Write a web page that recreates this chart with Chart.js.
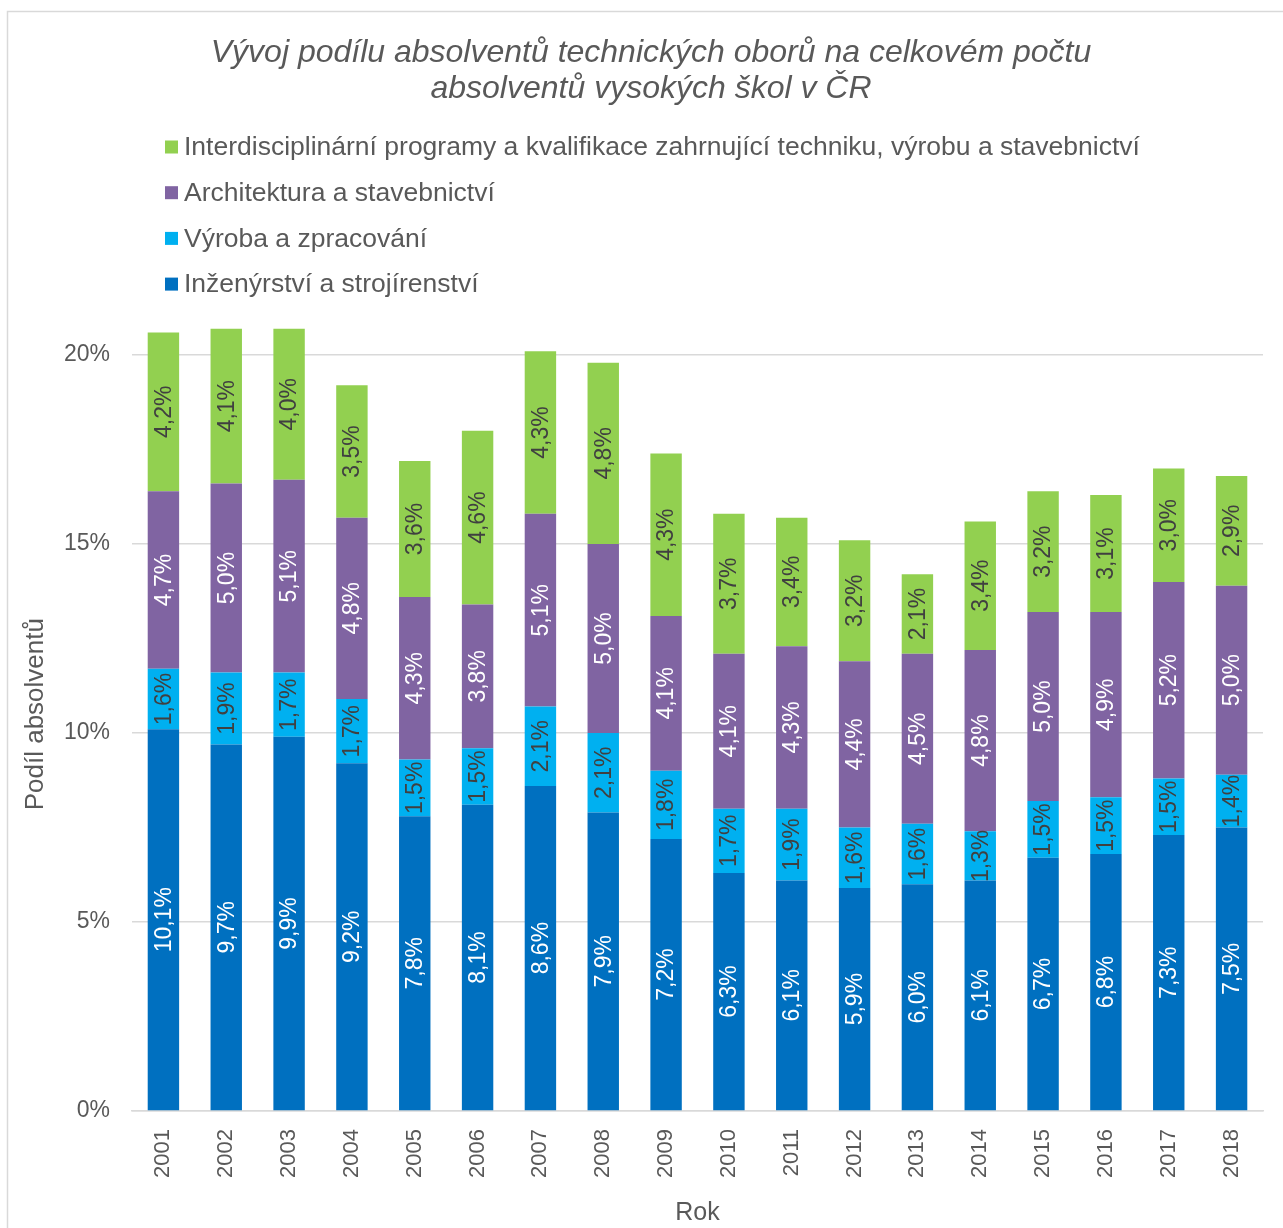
<!DOCTYPE html>
<html lang="cs">
<head>
<meta charset="utf-8">
<title>Podíl absolventů technických oborů</title>
<script src="https://cdn.jsdelivr.net/npm/chart.js@4.4.1/dist/chart.umd.min.js"></script>
<style>
  html, body { margin: 0; padding: 0; background: #fff; }
  #wrap { position: relative; width: 1283px; height: 1228px; }
</style>
</head>
<body>
<div id="wrap"><canvas id="graf" width="1283" height="1228"></canvas></div>
<script>
// roky a podíly jednotlivých skupin oborů (v %)
var roky = ['2001','2002','2003','2004','2005','2006','2007','2008','2009',
            '2010','2011','2012','2013','2014','2015','2016','2017','2018'];

var inzenyrstvi = [10.1, 9.7, 9.9, 9.2, 7.8, 8.1, 8.6, 7.9, 7.2, 6.3, 6.1, 5.9, 6.0, 6.1, 6.7, 6.8, 7.3, 7.5];
var vyroba      = [1.6, 1.9, 1.7, 1.7, 1.5, 1.5, 2.1, 2.1, 1.8, 1.7, 1.9, 1.6, 1.6, 1.3, 1.5, 1.5, 1.5, 1.4];
var architektura = [4.7, 5.0, 5.1, 4.8, 4.3, 3.8, 5.1, 5.0, 4.1, 4.1, 4.3, 4.4, 4.5, 4.8, 5.0, 4.9, 5.2, 5.0];
var interdisc   = [4.2, 4.1, 4.0, 3.5, 3.6, 4.6, 4.3, 4.8, 4.3, 3.7, 3.4, 3.2, 2.1, 3.4, 3.2, 3.1, 3.0, 2.9];

var yTicks = [0, 5, 10, 15, 20];

var FONT = '"Liberation Sans", Arial, sans-serif';
var SEDA = '#595959';

// rámeček kolem celého grafu
var ramecek = {
  id: 'ramecek',
  beforeDraw: function(chart) {
    var ctx = chart.ctx;
    ctx.save();
    ctx.fillStyle = '#fff';
    ctx.fillRect(0, 0, chart.width, chart.height);
    ctx.strokeStyle = '#d9d9d9';
    ctx.lineWidth = 1.5;
    ctx.strokeRect(7.5, 11.5, chart.width + 20, chart.height + 20);
    ctx.restore();
  }
};

// nadpis trochu posunutý doprava (střed nad oblastí grafu s osou)
var posunNadpisu = {
  id: 'posunNadpisu',
  afterLayout: function(chart) {
    if (chart.titleBlock) chart.titleBlock.left += 27;
  }
};

// legenda pod sebou, v obráceném pořadí řad
var legendaPodSebou = {
  id: 'legendaPodSebou',
  afterDraw: function(chart, args, opts) {
    var ctx = chart.ctx;
    var sets = chart.data.datasets.slice().reverse();
    ctx.save();
    ctx.font = opts.fontSize + 'px ' + FONT;
    ctx.textBaseline = 'middle';
    ctx.textAlign = 'left';
    sets.forEach(function(ds, i) {
      var y = opts.top + i * opts.gap;
      ctx.fillStyle = ds.backgroundColor;
      ctx.fillRect(opts.left, y - opts.box / 2, opts.box, opts.box);
      ctx.fillStyle = SEDA;
      ctx.fillText(ds.label, opts.left + opts.box + 6, y + 1);
    });
    ctx.restore();
  }
};

// popisky hodnot otočené o 90° uprostřed segmentů
var popisky = {
  id: 'popisky',
  afterDatasetsDraw: function(chart) {
    var ctx = chart.ctx;
    ctx.save();
    ctx.font = '23px ' + FONT;
    ctx.textAlign = 'center';
    ctx.textBaseline = 'middle';
    chart.data.datasets.forEach(function(ds, di) {
      var meta = chart.getDatasetMeta(di);
      meta.data.forEach(function(bar, i) {
        var v = ds.data[i];
        var txt = v.toFixed(1).replace('.', ',') + '%';
        var yMid = (bar.y + bar.base) / 2;
        ctx.save();
        ctx.translate(bar.x + 1, yMid);
        ctx.rotate(-Math.PI / 2);
        ctx.fillStyle = ds.labelColor;
        ctx.fillText(txt, 0, 0);
        ctx.restore();
      });
    });
    ctx.restore();
  }
};

new Chart(document.getElementById('graf'), {
  type: 'bar',
  data: {
    labels: roky,
    datasets: [
      { label: 'Inženýrství a strojírenství', data: inzenyrstvi, backgroundColor: '#0070C0', labelColor: '#ffffff' },
      { label: 'Výroba a zpracování', data: vyroba, backgroundColor: '#00B0F0', labelColor: '#404040' },
      { label: 'Architektura a stavebnictví', data: architektura, backgroundColor: '#8064A2', labelColor: '#ffffff' },
      { label: 'Interdisciplinární programy a kvalifikace zahrnující techniku, výrobu a stavebnictví', data: interdisc, backgroundColor: '#92D050', labelColor: '#404040' }
    ]
  },
  options: {
    responsive: false,
    animation: false,
    devicePixelRatio: 1,
    layout: { padding: { left: 12, right: 20, top: 0, bottom: 0 } },
    datasets: {
      bar: { barPercentage: 0.5, categoryPercentage: 1.0, borderWidth: 0 }
    },
    plugins: {
      tooltip: { enabled: false },
      legend: { display: false },
      title: {
        display: true,
        text: ['Vývoj podílu absolventů technických oborů na celkovém počtu', 'absolventů vysokých škol v ČR'],
        color: SEDA,
        font: { family: FONT, size: 32, style: 'italic', weight: 'normal', lineHeight: 1.13 },
        padding: { top: 35, bottom: 210 }
      },
      legendaPodSebou: { left: 165, top: 147, gap: 45.7, box: 13, fontSize: 26.5 }
    },
    scales: {
      x: {
        stacked: true,
        grid: { display: false, drawTicks: false },
        border: { display: true, color: '#d9d9d9', width: 1.5 },
        ticks: {
          color: SEDA, font: { family: FONT, size: 22 },
          minRotation: 90, maxRotation: 90, padding: 18
        },
        title: {
          display: true, text: 'Rok', color: SEDA,
          font: { family: FONT, size: 25 }, padding: { top: 0, bottom: 0 }
        },
        afterFit: function(scale) { scale.height = 117; }
      },
      y: {
        stacked: true,
        min: 0, max: 21,
        grid: { color: '#d9d9d9', lineWidth: 1.5, drawTicks: false },
        border: { display: false },
        afterBuildTicks: function(scale) {
          scale.ticks = yTicks.map(function(v) { return { value: v }; });
        },
        ticks: {
          color: SEDA, font: { family: FONT, size: 23 }, padding: 22,
          callback: function(v) { return v + '%'; }
        },
        title: {
          display: true, text: 'Podíl absolventů', color: SEDA,
          font: { family: FONT, size: 26 }, padding: { top: 8, bottom: 0 }
        },
        afterFit: function(scale) { scale.width = 120; }
      }
    }
  },
  plugins: [ramecek, posunNadpisu, legendaPodSebou, popisky]
});
</script>
</body>
</html>
